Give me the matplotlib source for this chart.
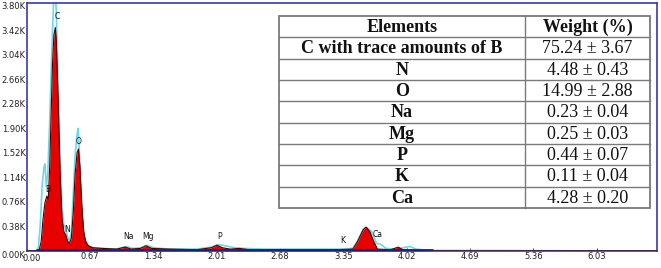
import matplotlib
matplotlib.use("Agg")
import matplotlib.pyplot as plt
import matplotlib.transforms as mtransforms
from matplotlib.patches import Rectangle

# ---------------- data ----------------
# red (measured) spectrum: energy (keV) and counts (K)
red_e = [0.00, 0.10, 0.13, 0.15, 0.17, 0.19, 0.21, 0.225, 0.24, 0.255, 0.27, 0.285,
         0.30, 0.31, 0.33, 0.35, 0.37, 0.39, 0.41, 0.43, 0.45, 0.47, 0.49, 0.51,
         0.53, 0.545, 0.56, 0.58, 0.60, 0.62, 0.65, 0.70, 0.80, 0.95, 1.04, 1.10,
         1.20, 1.26, 1.32, 1.50, 1.80, 1.95, 2.01, 2.07, 2.15, 2.25, 2.35, 2.70,
         3.30, 3.45, 3.50, 3.56, 3.59, 3.63, 3.67, 3.71, 3.85, 3.93, 3.98, 4.10,
         4.30, 6.70]
red_k = [0.00, 0.00, 0.02, 0.15, 0.50, 0.75, 0.85, 0.80, 1.30, 2.10, 2.90, 3.35,
         3.46, 3.25, 2.30, 1.20, 0.50, 0.30, 0.25, 0.15, 0.12, 0.20, 0.60, 1.20,
         1.52, 1.58, 1.30, 0.70, 0.30, 0.15, 0.08, 0.05, 0.04, 0.03, 0.06, 0.03,
         0.04, 0.08, 0.04, 0.03, 0.02, 0.05, 0.09, 0.05, 0.03, 0.04, 0.02, 0.02,
         0.02, 0.03, 0.15, 0.33, 0.37, 0.30, 0.15, 0.03, 0.02, 0.06, 0.02, 0.01,
         0.00, 0.00]

# cyan (overlay) spectrum
cyan_e = [0.00, 0.10, 0.12, 0.14, 0.16, 0.18, 0.19, 0.205, 0.22, 0.24, 0.26, 0.28,
          0.29, 0.30, 0.31, 0.33, 0.35, 0.37, 0.39, 0.41, 0.43, 0.45, 0.47, 0.49,
          0.51, 0.53, 0.54, 0.55, 0.57, 0.59, 0.61, 0.63, 0.66, 0.70, 0.80, 0.95,
          1.05, 1.12, 1.20, 1.27, 1.34, 1.50, 1.80, 1.95, 2.03, 2.10, 2.20, 2.30,
          2.50, 3.30, 3.45, 3.50, 3.56, 3.60, 3.65, 3.70, 3.75, 3.80, 3.90, 3.95,
          4.05, 4.12, 4.25, 6.70]
cyan_k = [0.00, 0.00, 0.05, 0.40, 1.00, 1.30, 1.35, 1.00, 1.20, 2.00, 3.00, 3.80,
          4.00, 4.00, 3.70, 2.60, 1.50, 0.70, 0.40, 0.35, 0.22, 0.15, 0.30, 0.90,
          1.50, 1.80, 1.90, 1.70, 1.00, 0.45, 0.20, 0.10, 0.07, 0.05, 0.04, 0.03,
          0.07, 0.04, 0.05, 0.09, 0.05, 0.03, 0.03, 0.06, 0.10, 0.08, 0.05, 0.04,
          0.03, 0.03, 0.04, 0.16, 0.34, 0.36, 0.30, 0.12, 0.10, 0.04, 0.03, 0.04,
          0.07, 0.03, 0.01, 0.00]

# peak labels
peak_names = ["B", "C", "N", "O", "Na", "Mg", "P", "K", "Ca"]
peak_e = [0.22, 0.32, 0.42, 0.55, 1.07, 1.28, 2.04, 3.34, 3.71]
peak_k = [0.96, 3.63, 0.34, 1.70, 0.23, 0.23, 0.23, 0.17, 0.26]

# table contents
table_header = ["Elements", "Weight (%)"]
elements = ["C with trace amounts of B", "N", "O", "Na", "Mg", "P", "K", "Ca"]
weights = ["75.24 \u00b1 3.67", "4.48 \u00b1 0.43", "14.99 \u00b1 2.88", "0.23 \u00b1 0.04",
           "0.25 \u00b1 0.03", "0.44 \u00b1 0.07", "0.11 \u00b1 0.04", "4.28 \u00b1 0.20"]

x_ticks = [0.00, 0.67, 1.34, 2.01, 2.68, 3.35, 4.02, 4.69, 5.36, 6.03]
y_ticks = [0.00, 0.38, 0.76, 1.14, 1.52, 1.90, 2.28, 2.66, 3.04, 3.42, 3.80]

# ---------------- figure ----------------
fig = plt.figure(figsize=(6.61, 2.68), dpi=100)
ax = fig.add_axes([27 / 661, 17 / 268, 630 / 661, 248 / 268])

ax.plot(cyan_e, cyan_k, color="#6fd8e6", lw=1.2, zorder=2)
ax.fill_between(red_e, 0, red_k, color="#e60000", lw=0, zorder=3)
ax.plot(red_e, red_k, color="#4a0000", lw=0.8, zorder=4)
# dark background trace along the baseline
ax.plot([0.10, 4.30], [0.008, 0.008], color="#20207a", lw=2.0, zorder=5,
        solid_capstyle="butt")

for n, e, k in zip(peak_names, peak_e, peak_k):
    ax.text(e, k, n, fontsize=5.5, ha="center", va="center", color="#111111",
            zorder=6)

ax.set_xlim(0, 6.67)
ax.set_ylim(0, 3.84)
ax.set_xticks(x_ticks)
ax.set_xticklabels(["%.2f" % v for v in x_ticks])
ax.set_yticks(y_ticks)
ax.set_yticklabels(["%.2fK" % v for v in y_ticks])
ax.tick_params(axis="both", labelsize=6, length=2, width=0.6, pad=1,
               colors="#222222")
ax.tick_params(axis="x", direction="in")
ax.tick_params(axis="y", length=0)
for s in ax.spines.values():
    s.set_color("#3a3ab0")
    s.set_linewidth(1.2)

# nudge first x label right (as in reference) so it clears 0.00K
fig.canvas.draw()
lab0 = ax.get_xticklabels()[0]
lab0.set_transform(lab0.get_transform() +
                   mtransforms.ScaledTranslation(5 / 100, -2 / 100, fig.dpi_scale_trans))
lab_y0 = ax.get_yticklabels()[0]
lab_y0.set_transform(lab_y0.get_transform() +
                     mtransforms.ScaledTranslation(0, -3 / 100, fig.dpi_scale_trans))

# ---------------- table ----------------
rows = [table_header] + [[e, w] for e, w in zip(elements, weights)]
x0, x1, xd = 279, 650, 525
y_top, y_bot = 16, 208
nrows = len(rows)
rh = (y_bot - y_top) / nrows


def fx(px):
    return (px - 27) / 630


def fy(py):
    return 1 - (py - 3) / 248


ax.add_patch(Rectangle((fx(x0), fy(y_bot)), fx(x1) - fx(x0), fy(y_top) - fy(y_bot),
                       transform=ax.transAxes, facecolor="white",
                       edgecolor="#7a7a7a", lw=1.3, zorder=10))
ax.plot([fx(xd), fx(xd)], [fy(y_top), fy(y_bot)], transform=ax.transAxes,
        color="#7a7a7a", lw=1.0, zorder=11)
for i in range(1, nrows):
    yy = fy(y_top + i * rh)
    ax.plot([fx(x0), fx(x1)], [yy, yy], transform=ax.transAxes,
            color="#7a7a7a", lw=1.0, zorder=11)

for i, (a, b) in enumerate(rows):
    yc = fy(y_top + (i + 0.5) * rh) - 0.004
    ax.text(fx((x0 + xd) / 2), yc, a, transform=ax.transAxes, ha="center",
            va="center", fontsize=13, fontweight="bold",
            family="Liberation Serif", color="#111111", zorder=12)
    ax.text(fx((xd + x1) / 2), yc, b, transform=ax.transAxes, ha="center",
            va="center", fontsize=13,
            fontweight="bold" if i == 0 else "normal",
            family="Liberation Serif", color="#111111", zorder=12)

fig.savefig("out.png", dpi=100, facecolor="white")
